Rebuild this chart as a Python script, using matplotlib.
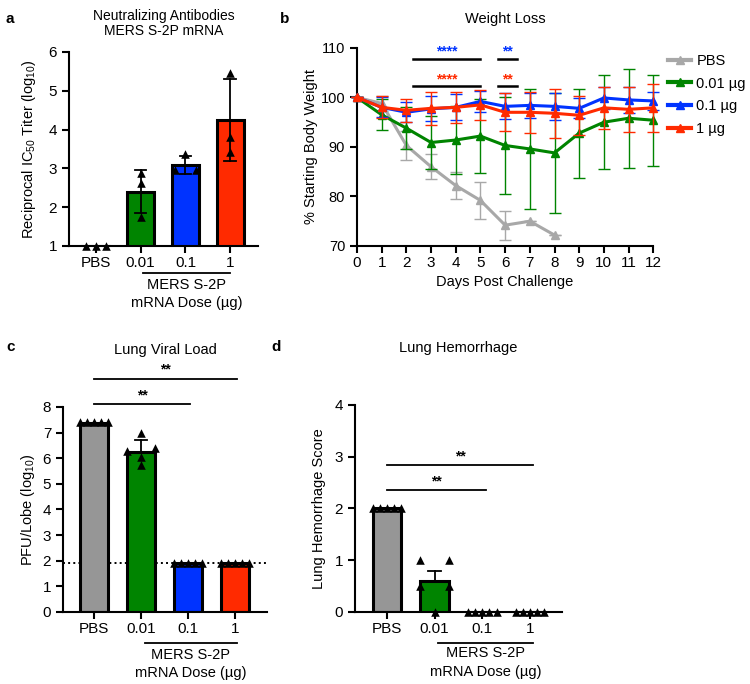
import matplotlib
matplotlib.use('Agg')
import matplotlib.pyplot as plt
import matplotlib.transforms as mtransforms
from matplotlib.lines import Line2D
import numpy as np

plt.rcParams['font.family'] = 'Liberation Sans'
plt.rcParams['mathtext.fontset'] = 'custom'
plt.rcParams['mathtext.rm'] = 'Liberation Sans'
plt.rcParams['mathtext.it'] = 'Liberation Sans:italic'
plt.rcParams['axes.linewidth'] = 1.5
plt.rcParams['xtick.major.width'] = 1.5
plt.rcParams['ytick.major.width'] = 1.5
plt.rcParams['xtick.major.size'] = 5
plt.rcParams['ytick.major.size'] = 5

GREY = '#969696'
GREEN = '#008400'
BLUE = '#0033ff'
RED = '#ff2a00'
BAR_COLORS = [GREY, GREEN, BLUE, RED]

groups = ['PBS', '0.01', '0.1', '1']

# a: neutralizing antibodies (log10)
a_mean = [1.0, 2.4, 3.08, 4.25]
a_lo = [1.0, 1.84, 2.85, 3.2]
a_hi = [1.0, 2.97, 3.31, 5.3]
a_pts = [[1.0, 1.0, 1.0], [2.88, 2.62, 1.75], [2.96, 2.96, 3.37], [5.45, 3.82, 3.43]]

# b: weight loss
days = np.arange(13)
pbs_days = np.arange(9)
pbs_w = [100, 98.8, 90.3, 86.0, 82.2, 79.2, 74.2, 75.0, 72.2]
pbs_err = [0, 1.5, 3.0, 2.5, 2.7, 3.8, 2.9, 0, 0]
g_w = [100, 96.5, 93.8, 90.9, 91.4, 92.2, 90.3, 89.6, 88.8, 92.8, 95.0, 95.8, 95.4]
g_err = [0, 3.1, 4.2, 5.4, 6.8, 7.5, 9.8, 12.2, 12.1, 9.0, 9.5, 10.0, 9.2]
b_w = [100, 98.0, 97.0, 97.7, 98.0, 99.2, 98.2, 98.4, 98.2, 97.8, 99.9, 99.5, 99.3]
b_err = [0, 2.0, 2.0, 2.5, 2.6, 2.2, 2.6, 2.6, 2.8, 2.0, 2.3, 2.6, 1.8]
r_w = [100, 98.0, 97.4, 97.8, 98.0, 98.5, 97.0, 97.0, 96.8, 96.4, 97.9, 97.6, 97.9]
r_err = [0, 2.2, 2.3, 3.3, 3.1, 3.1, 3.8, 4.2, 4.9, 3.9, 4.2, 4.5, 4.8]

# c: lung viral load (log10 PFU)
c_mean = [7.38, 6.25, 1.9, 1.9]
c_hi = [7.38, 6.72, 1.9, 1.9]
c_pts = [[7.4] * 5, [6.4, 5.74, 7.0, 6.05, 6.3], [1.9] * 5, [1.9] * 5]
c_lod = 1.9

# d: lung hemorrhage score
d_mean = [2.0, 0.6, 0.0, 0.0]
d_hi = [2.0, 0.79, 0.0, 0.0]
d_pts = [[2.0] * 5, [1.0, 0.5, 0.0, 0.5, 1.0], [0.0] * 5, [0.0] * 5]


def swarm(vals, w, tol):
    vals = np.asarray(vals, float)
    offs = np.zeros(len(vals))
    order = np.argsort(vals)
    grp = []
    for i in order:
        if grp and vals[i] - vals[grp[-1][-1]] < tol:
            grp[-1].append(i)
        else:
            grp.append([i])
    for g in grp:
        if len(g) > 1:
            offs[g] = np.linspace(-w, w, len(g))
    return offs


def style(ax):
    ax.spines['top'].set_visible(False)
    ax.spines['right'].set_visible(False)


def dose_label(ax, x0, x1, yl, y1, y2, fs):
    tr = mtransforms.blended_transform_factory(ax.transData, ax.transAxes)
    ax.plot([x0, x1], [yl, yl], color='k', lw=1.3, transform=tr, clip_on=False)
    xm = (x0 + x1) / 2
    ax.text(xm, y1, 'MERS S-2P', transform=tr, ha='center', va='center', fontsize=fs)
    ax.text(xm, y2, 'mRNA Dose (µg)', transform=tr, ha='center', va='center', fontsize=fs)


def bar_panel(ax, means, pts, w, tol, hi=None, lo=None):
    x = np.arange(len(means))
    ax.bar(x, means, width=0.6, color=BAR_COLORS, edgecolor='k', linewidth=2.2, zorder=2)
    for i in x:
        if hi is not None and hi[i] > means[i]:
            ax.plot([i, i], [means[i], hi[i]], color='k', lw=1.3, zorder=3)
            ax.plot([i - 0.13, i + 0.13], [hi[i], hi[i]], color='k', lw=1.3, zorder=3)
        if lo is not None and lo[i] < means[i]:
            ax.plot([i, i], [lo[i], means[i]], color='k', lw=1.3, zorder=3)
            ax.plot([i - 0.13, i + 0.13], [lo[i], lo[i]], color='k', lw=1.3, zorder=3)
        offs = swarm(pts[i], w, tol)
        ax.scatter(i + offs, pts[i], marker='^', s=38, color='k', zorder=4, clip_on=False,
                   linewidths=0)
    ax.set_xticks(x)
    ax.set_xticklabels(groups)
    ax.tick_params(axis='x', length=5, pad=2)
    style(ax)


fig = plt.figure(figsize=(7.5, 6.84), dpi=100)

# ---------------- a
ax = fig.add_axes([0.092, 0.6404, 0.252, 0.2836])
bar_panel(ax, a_mean, a_pts, 0.23, 0.05, hi=a_hi, lo=a_lo)
ax.set_ylim(1, 6)
ax.set_xlim(-0.6, 3.62)
ax.set_yticks(range(1, 7))
ax.tick_params(labelsize=11)
ax.set_ylabel('Reciprocal IC$_{50}$ Titer (log$_{10}$)', fontsize=10.5, labelpad=8)
ax.set_title('Neutralizing Antibodies\nMERS S-2P mRNA', fontsize=10, pad=12, linespacing=1.1)
dose_label(ax, 1.05, 3.0, -0.139, -0.201, -0.294, 10.5)
fig.text(0.008, 0.982, 'a', fontsize=11, fontweight='bold', va='top')

# ---------------- b
ax = fig.add_axes([0.476, 0.6404, 0.395, 0.2895])
series = [(pbs_days, pbs_w, pbs_err, '#a8a8a8', 'PBS'),
          (days, g_w, g_err, GREEN, '0.01 µg'),
          (days, b_w, b_err, BLUE, '0.1 µg'),
          (days, r_w, r_err, RED, '1 µg')]
handles = []
for z, (xd, yd, ed, col, lab) in enumerate(series):
    ax.errorbar(xd, yd, yerr=ed, color=col, lw=2.2, marker='^', ms=6, capsize=4,
                elinewidth=1, capthick=1, zorder=2 + z, clip_on=False)
    handles.append(Line2D([], [], color=col, lw=3, marker='^', ms=6, label=lab))
ax.set_xlim(0, 12)
ax.set_ylim(70, 110)
ax.set_xticks(days)
ax.set_yticks(range(70, 111, 10))
ax.tick_params(axis='x', labelsize=11, pad=2.5)
ax.tick_params(axis='y', labelsize=10.5)
ax.set_xlabel('Days Post Challenge', fontsize=10.5, labelpad=3)
ax.set_ylabel('% Starting Body Weight', fontsize=10.5, labelpad=2)
ax.set_title('Weight Loss', fontsize=10.5, pad=18)
style(ax)
for (x0, x1), y, sy, col, st in [((2.27, 4.98), 107.8, 109.7, BLUE, '****'),
                                 ((5.7, 6.48), 107.8, 109.7, BLUE, '**'),
                                 ((2.27, 4.98), 102.3, 104.2, RED, '****'),
                                 ((5.7, 6.48), 102.3, 104.2, RED, '**')]:
    ax.plot([x0, x1], [y, y], color='k', lw=1.8, clip_on=False)
    ax.text((x0 + x1) / 2, sy - 0.5, st, color=col, ha='center', va='center',
            fontsize=10, fontweight='bold')
ax.legend(handles=handles, loc='upper left', bbox_to_anchor=(1.03, 1.0), frameon=False,
          fontsize=10.5, handlelength=1.6, handletextpad=0.35, labelspacing=0.6,
          borderaxespad=0)
fig.text(0.373, 0.982, 'b', fontsize=11, fontweight='bold', va='top')

# ---------------- c
ax = fig.add_axes([0.084, 0.1053, 0.272, 0.2997])
ax.axhline(c_lod, color='k', ls=':', lw=1.4, zorder=1)
bar_panel(ax, c_mean, c_pts, 0.3, 0.15, hi=c_hi)
ax.set_ylim(0, 8)
ax.set_xlim(-0.66, 3.68)
ax.set_yticks(range(0, 9))
ax.tick_params(labelsize=11)
ax.set_ylabel('PFU/Lobe (log$_{10}$)', fontsize=10.5, labelpad=4)
ax.set_title('Lung Viral Load', fontsize=10.5, pad=38)
for x1, y, sy in [(3.04, 9.1, 9.55), (2.04, 8.1, 8.55)]:
    ax.plot([0, x1], [y, y], color='k', lw=1.3, clip_on=False)
    ax.text((0 + x1) / 2, sy - 0.1, '**', ha='center', va='center', fontsize=10,
            fontweight='bold')
dose_label(ax, 1.08, 3.04, -0.151, -0.21, -0.298, 10.5)
fig.text(0.008, 0.503, 'c', fontsize=11, fontweight='bold', va='top')

# ---------------- d
ax = fig.add_axes([0.4733, 0.1053, 0.276, 0.3026])
bar_panel(ax, d_mean, d_pts, 0.3, 0.1, hi=d_hi)
ax.set_ylim(0, 4)
ax.set_xlim(-0.67, 3.67)
ax.set_yticks(range(0, 5))
ax.tick_params(labelsize=11)
ax.set_ylabel('Lung Hemorrhage Score', fontsize=10.5, labelpad=6)
ax.set_title('Lung Hemorrhage', fontsize=10.5, pad=38)
for x1, y, sy in [(3.06, 2.84, 3.05), (2.08, 2.36, 2.57)]:
    ax.plot([0, x1], [y, y], color='k', lw=1.3)
    ax.text((0 + x1) / 2, sy - 0.05, '**', ha='center', va='center', fontsize=10,
            fontweight='bold')
dose_label(ax, 1.07, 3.06, -0.15, -0.197, -0.29, 10.5)
fig.text(0.362, 0.503, 'd', fontsize=11, fontweight='bold', va='top')

fig.savefig('out.png', dpi=100)
